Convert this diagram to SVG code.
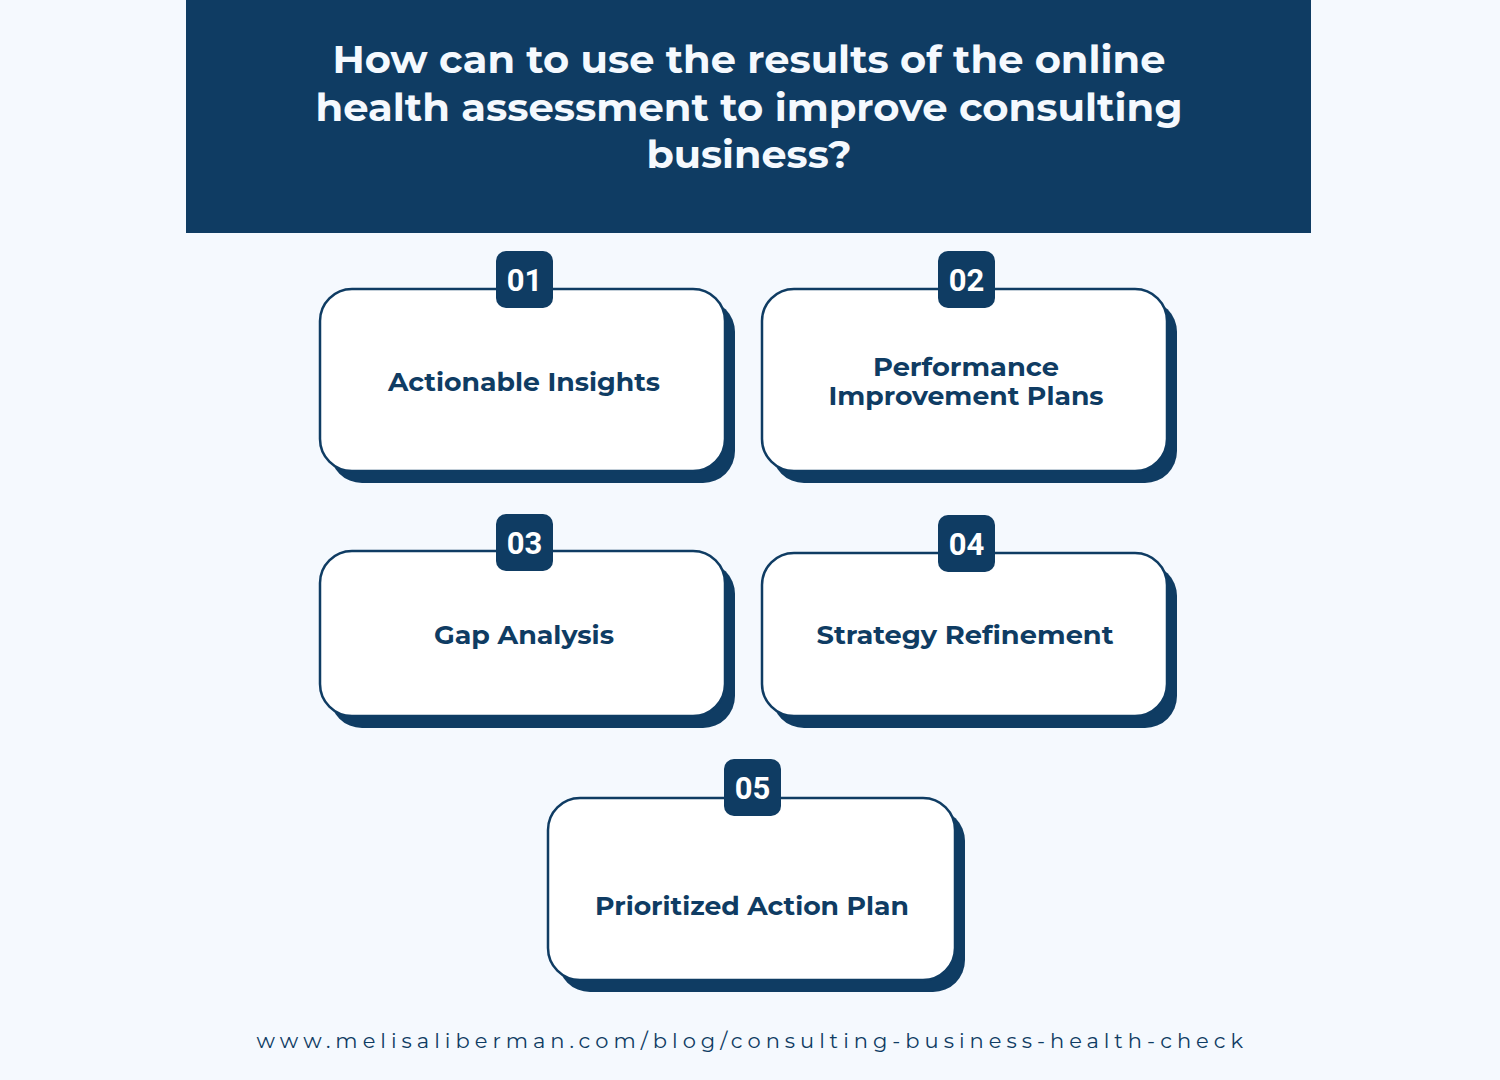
<svg xmlns="http://www.w3.org/2000/svg" width="1500" height="1080" viewBox="0 0 1500 1080">
<style>
.bg{fill:#f5f9fe}
.banner{fill:#0f3c63}
.title{font-family:Montserrat,"Open Sans","Liberation Sans",sans-serif;font-weight:700;font-size:39px;fill:#f5f9fe;text-anchor:middle}
.shadow{fill:#0f3c63}
.card{fill:#ffffff;stroke:#0f3c63;stroke-width:2.5}
.badge{fill:#0f3c63}
.num{font-family:Roboto,"Open Sans",sans-serif;font-weight:700;font-size:31px;fill:#ffffff;text-anchor:middle}
.label{font-family:Montserrat,"Open Sans","Liberation Sans",sans-serif;font-weight:700;font-size:26px;fill:#0f3c63;text-anchor:middle}
.url{font-family:Montserrat,"Open Sans","Liberation Sans",sans-serif;font-weight:400;font-size:21px;fill:#0f3c63;letter-spacing:2.5px;text-anchor:middle}
</style>
<rect class="bg" x="0" y="0" width="1500" height="1080"/>
<g id="header">
<rect class="banner" x="186" y="0" width="1125" height="233"/>
<text class="title" x="749" y="73" textLength="833" lengthAdjust="spacingAndGlyphs">How can to use the results of the online</text>
<text class="title" x="749" y="121" textLength="867" lengthAdjust="spacingAndGlyphs">health assessment to improve consulting</text>
<text class="title" x="749" y="168" textLength="205" lengthAdjust="spacingAndGlyphs">business?</text>
</g>
<g id="connectors"></g>
<g id="node1">
<rect class="shadow" x="330" y="300" width="405" height="183" rx="32"/>
<rect class="card" x="320" y="289" width="405" height="182" rx="32"/>
<rect class="badge" x="496" y="251" width="57" height="57" rx="10"/>
<text class="num" x="524.5" y="291">01</text>
<text class="label" x="524" y="391" textLength="272" lengthAdjust="spacingAndGlyphs">Actionable Insights</text>
</g>
<g id="node2">
<rect class="shadow" x="772" y="300" width="405" height="183" rx="32"/>
<rect class="card" x="762" y="289" width="405" height="182" rx="32"/>
<rect class="badge" x="938" y="251" width="57" height="57" rx="10"/>
<text class="num" x="966.5" y="291">02</text>
<text class="label" x="966" y="376" textLength="186" lengthAdjust="spacingAndGlyphs">Performance</text>
<text class="label" x="966" y="405" textLength="275" lengthAdjust="spacingAndGlyphs">Improvement Plans</text>
</g>
<g id="node3">
<rect class="shadow" x="330" y="562" width="405" height="166" rx="32"/>
<rect class="card" x="320" y="551" width="405" height="165" rx="32"/>
<rect class="badge" x="496" y="514" width="57" height="57" rx="10"/>
<text class="num" x="524.5" y="554">03</text>
<text class="label" x="524" y="644" textLength="180" lengthAdjust="spacingAndGlyphs">Gap Analysis</text>
</g>
<g id="node4">
<rect class="shadow" x="772" y="564" width="405" height="164" rx="32"/>
<rect class="card" x="762" y="553" width="405" height="163" rx="32"/>
<rect class="badge" x="938" y="515" width="57" height="57" rx="10"/>
<text class="num" x="966.5" y="555">04</text>
<text class="label" x="965" y="644" textLength="297" lengthAdjust="spacingAndGlyphs">Strategy Refinement</text>
</g>
<g id="node5">
<rect class="shadow" x="558" y="809" width="407" height="183" rx="32"/>
<rect class="card" x="548" y="798" width="407" height="182" rx="32"/>
<rect class="badge" x="724" y="759" width="57" height="57" rx="10"/>
<text class="num" x="752.5" y="799">05</text>
<text class="label" x="752" y="915" textLength="314" lengthAdjust="spacingAndGlyphs">Prioritized Action Plan</text>
</g>
<g id="footer">
<text class="url" x="751" y="1048" textLength="989" lengthAdjust="spacing">www.melisaliberman.com/blog/consulting-business-health-check</text>
</g>
</svg>
